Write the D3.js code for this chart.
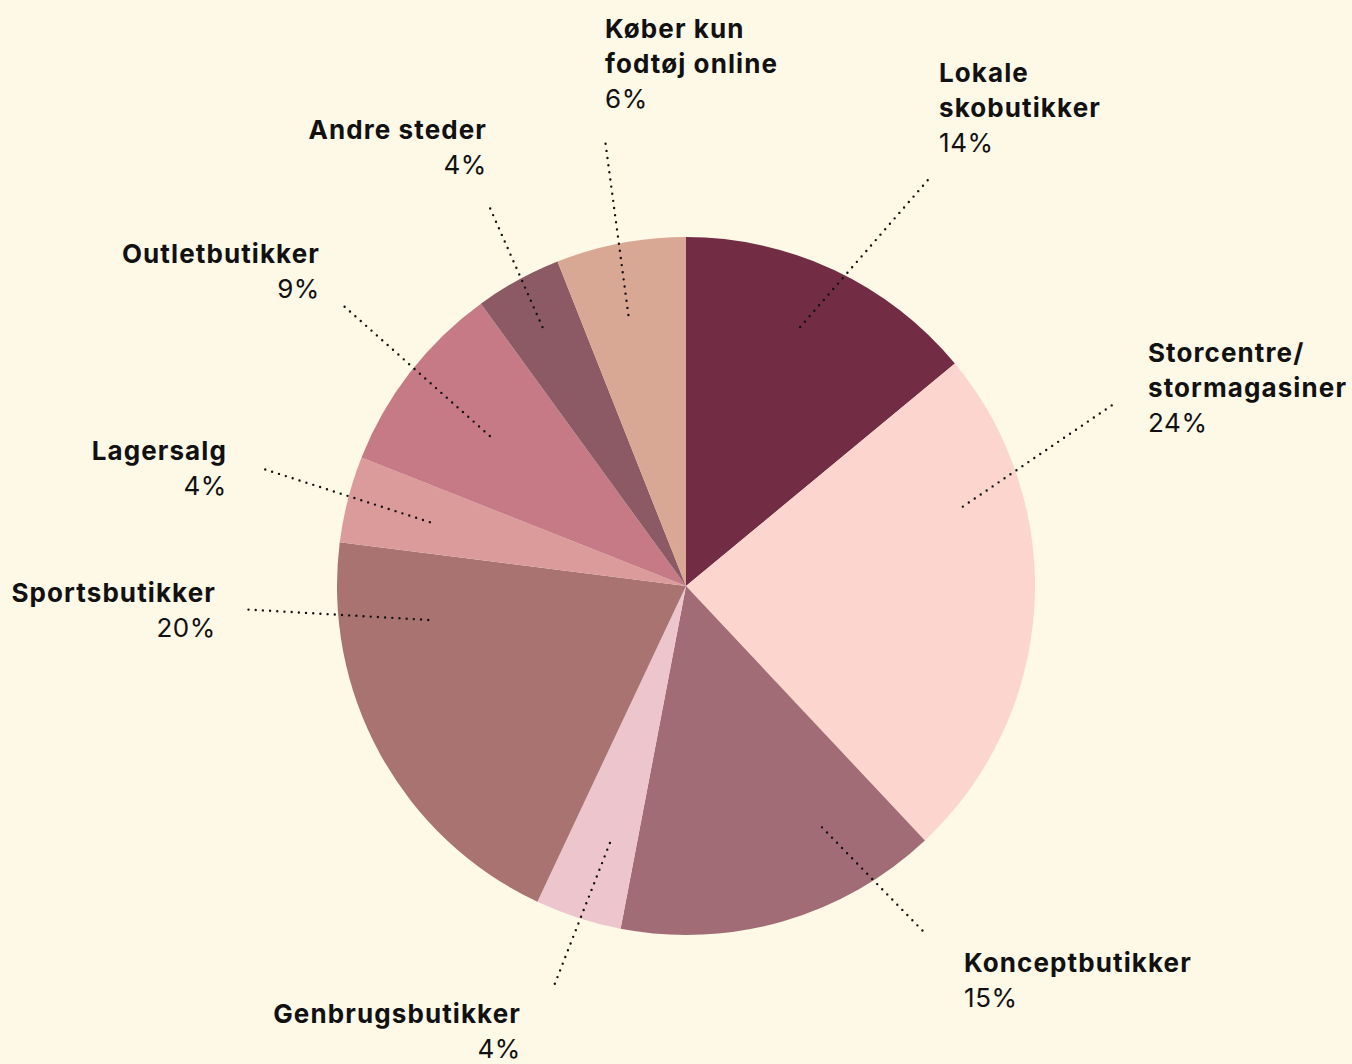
<!DOCTYPE html>
<html>
<head>
<meta charset="utf-8">
<script src="https://cdn.jsdelivr.net/npm/d3@7"></script>
<style>
  html, body { margin: 0; padding: 0; background: #fef8e7; }
  svg { display: block; }
  .label text { font-family: Inter, "Noto Sans", sans-serif; font-size: 26px; fill: #111; }
  .label .name { font-weight: 700; letter-spacing: 1.1px; }
  .label .pct { font-weight: 400; letter-spacing: 0.6px; }
  .leader { fill: none; stroke: #111; stroke-width: 2.4; stroke-linecap: round; stroke-dasharray: 0 7.2; }
</style>
</head>
<body>
<script>
(function(){

    //chart data, clockwise from 12 o'clock
    var categories = ["Lokale skobutikker", "Storcentre/stormagasiner", "Konceptbutikker", "Genbrugsbutikker",
                      "Sportsbutikker", "Lagersalg", "Outletbutikker", "Andre steder", "Køber kun fodtøj online"];
    var labelLines = [["Lokale", "skobutikker"], ["Storcentre/", "stormagasiner"], ["Konceptbutikker"], ["Genbrugsbutikker"],
                      ["Sportsbutikker"], ["Lagersalg"], ["Outletbutikker"], ["Andre steder"], ["Køber kun", "fodtøj online"]];
    var values = [14, 24, 15, 4, 20, 4, 9, 4, 6];
    var colors = ["#722c44", "#fcd5cf", "#a26c76", "#ecc6cc", "#a87371", "#dc9b9b", "#c57a86", "#8b5a64", "#d9a895"];

    //label placement (x, first baseline, anchor) and leader lines in polar form [angle deg, radius] inner -> outer
    var labelLayout = [
        [939, 82, "start"], [1148, 362, "start"], [964, 972, "start"], [521, 1023, "end"],
        [216, 602, "end"], [227, 460, "end"], [320, 263, "end"], [487, 139, "end"], [605, 38, "start"]
    ];
    var leaderLayout = [
        [23.8, 283, 30.8, 473], [74, 288, 67, 463], [150.6, 277, 145.4, 424], [196.5, 268, 198.3, 426],
        [262.5, 260, 267, 444], [284, 264, 285.5, 442], [307.4, 247, 309.3, 443], [331, 296, 332.6, 427],
        [348, 277, 349.7, 451]
    ];

    var width = 1352, height = 1064,
        cx = 686, cy = 586,
        radius = 349,
        lineHeight = 35;

    var svg = d3.select("body").append("svg")
        .attr("width", width)
        .attr("height", height);

    var g = svg.append("g")
        .attr("transform", "translate(" + cx + "," + cy + ")");

    var pie = d3.pie().sort(null).value(function(d){ return d; });
    var arc = d3.arc().innerRadius(0).outerRadius(radius);
    var color = d3.scaleOrdinal().domain(d3.range(values.length)).range(colors);

    var arcs = pie(values);

    g.selectAll(".slice")
        .data(arcs)
        .enter()
        .append("path")
        .attr("class", "slice")
        .attr("d", arc)
        .style("fill", function(d, i){ return color(i); });

    //polar helper, angle measured clockwise from top
    function polar(deg, r){
        var a = deg * Math.PI / 180;
        return [r * Math.sin(a), -r * Math.cos(a)];
    }

    g.selectAll(".leader")
        .data(leaderLayout)
        .enter()
        .append("path")
        .attr("class", "leader")
        .attr("d", function(d){
            return d3.line()([polar(d[0], d[1]), polar(d[2], d[3])]);
        });

    //labels
    var labels = svg.selectAll(".label")
        .data(categories)
        .enter()
        .append("g")
        .attr("class", "label");

    labels.each(function(d, i){
        var lay = labelLayout[i];
        var t = d3.select(this).append("text")
            .attr("text-anchor", lay[2]);
        labelLines[i].forEach(function(line, k){
            t.append("tspan")
                .attr("class", "name")
                .attr("x", lay[0])
                .attr("y", lay[1] + k * lineHeight)
                .text(line);
        });
        t.append("tspan")
            .attr("class", "pct")
            .attr("x", lay[0])
            .attr("y", lay[1] + labelLines[i].length * lineHeight)
            .text(values[i] + "%");
    });

})();
</script>
</body>
</html>
